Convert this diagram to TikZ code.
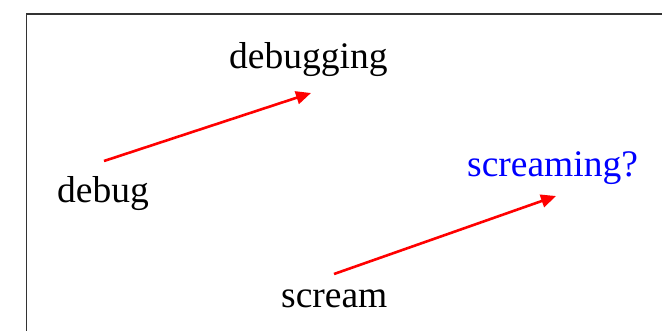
\documentclass[tikz,border=0pt]{standalone}
\usepackage{fontspec}
\setmainfont{Liberation Serif}
\usetikzlibrary{arrows.meta}
\begin{document}
\begin{tikzpicture}[x=1bp,y=-1bp,
  word/.style={anchor=base west,inner sep=0pt,font=\fontsize{37.5bp}{40bp}\selectfont},
  redarrow/.style={draw=red,line width=2.6bp,-{Triangle[length=15bp,width=13bp]}},
  frame/.style={draw=black!80,line width=1.6bp}]
\clip (0,0) rectangle (662,330);
\fill[white] (0,0) rectangle (662,330);
\draw[frame] (26.5,14) rectangle (720,400);
\node[word] (debugging) at (229,68) {debugging};
\node[word] (debug) at (57,202) {debug};
\node[word] (scream) at (281,307) {scream};
\node[word,text={rgb,255:red,0;green,0;blue,255}] (screaming) at (467,176) {screaming?};
\coordinate (a1s) at (104,161);
\coordinate (a1e) at (311,93);
\coordinate (a2s) at (334,274);
\coordinate (a2e) at (556,196);
\draw[redarrow] (a1s) -- (a1e);
\draw[redarrow] (a2s) -- (a2e);
\end{tikzpicture}
\end{document}
